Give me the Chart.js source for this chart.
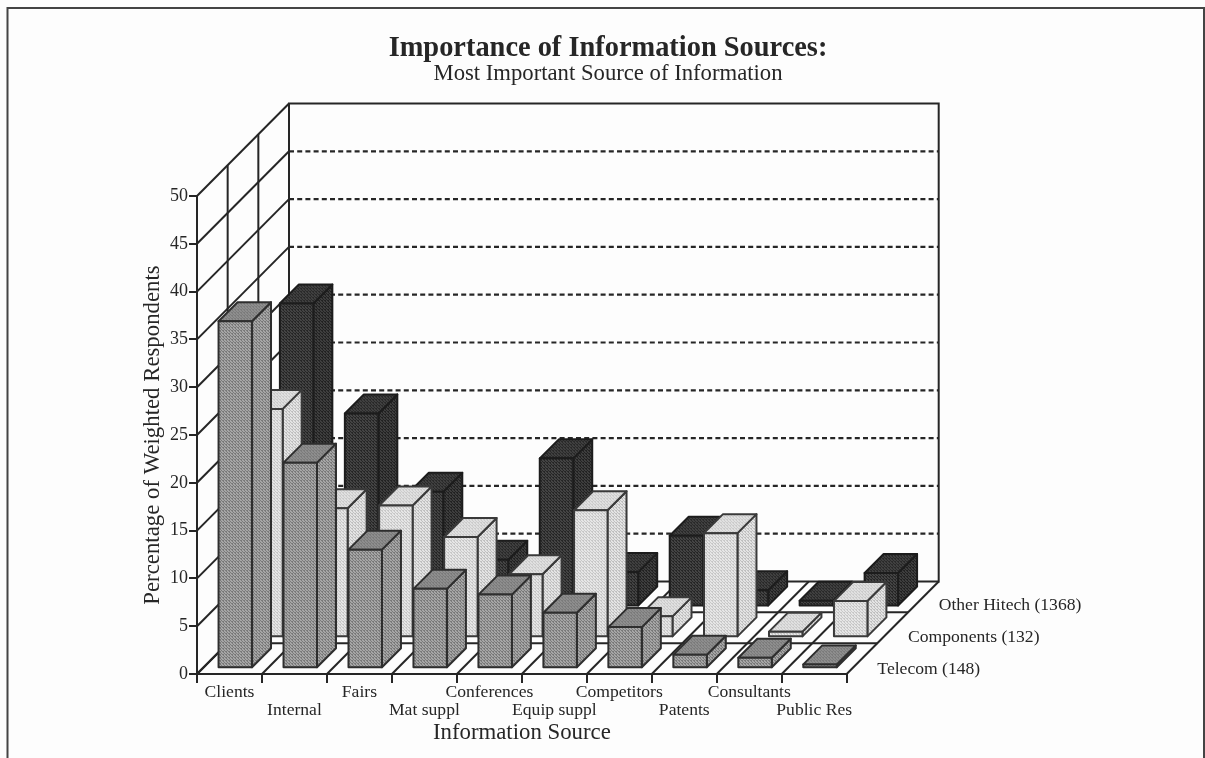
<!DOCTYPE html>
<html>
<head>
<meta charset="utf-8">
<title>Importance of Information Sources</title>
<script src="https://cdn.jsdelivr.net/npm/chart.js@4"></script>
<style>
  html, body { margin: 0; padding: 0; background: #fdfdfd; }
  canvas { display: block; }
</style>
</head>
<body>
<canvas id="plots" width="1205" height="758"></canvas>
<script>
// Categories and percentages, one list per respondent group
var sources = ["Clients", "Internal", "Fairs", "Mat suppl", "Conferences", "Equip suppl", "Competitors", "Patents", "Consultants", "Public Res"];
var telecom = [36.3, 21.5, 12.4, 8.3, 7.7, 5.8, 4.3, 1.4, 1.1, 0.4];
var components = [23.9, 13.5, 13.8, 10.5, 6.6, 13.3, 2.2, 10.9, 0.6, 3.8];
var otherHitech = [31.7, 20.2, 12.0, 4.9, 15.5, 3.6, 7.4, 1.7, 0.6, 3.5];
var yTicks = [0, 5, 10, 15, 20, 25, 30, 35, 40, 45, 50];

var ink = "#262626";
var serif = "'Liberation Serif', 'Times New Roman', serif";

// Oblique depth of the floor, split into one lane per dataset
var depthX = 92, depthY = 92.5, lanes = 3;
var laneX = depthX / lanes, laneY = depthY / lanes;
var barDepth = 19, inset = 5.8;

// Small dot tile, gives the screened look of the bar faces
function screen(hi, lo) {
  var c = document.createElement("canvas");
  c.width = c.height = 3;
  var g = c.getContext("2d");
  g.fillStyle = hi;
  g.fillRect(0, 0, 3, 3);
  g.fillStyle = lo;
  g.fillRect(0, 0, 1, 1);
  g.fillRect(1, 1, 1, 1);
  g.fillRect(2, 2, 1, 1);
  g.fillRect(1, 0, 1, 1);
  return g.createPattern(c, "repeat");
}

function line(ctx, x1, y1, x2, y2) {
  ctx.beginPath();
  ctx.moveTo(x1, y1);
  ctx.lineTo(x2, y2);
  ctx.stroke();
}

// Page frame, open at the bottom
var framePlugin = {
  id: "frame",
  beforeDraw: function (chart) {
    var ctx = chart.ctx;
    ctx.save();
    ctx.strokeStyle = "#444";
    ctx.lineWidth = 2;
    ctx.beginPath();
    ctx.moveTo(7.5, chart.height);
    ctx.lineTo(7.5, 8);
    ctx.lineTo(1204, 8);
    ctx.lineTo(1204, chart.height);
    ctx.stroke();
    ctx.restore();
  }
};

// Back wall, side wall and floor, all hung off the two scales
var roomPlugin = {
  id: "room",
  beforeDatasetsDraw: function (chart) {
    var ctx = chart.ctx, x = chart.scales.x, y = chart.scales.y;
    var left = x.left, right = x.right, zero = y.getPixelForValue(0), top = y.getPixelForValue(50);
    ctx.save();
    ctx.strokeStyle = ink;
    ctx.lineWidth = 2;

    // side wall diagonals, one per y tick
    yTicks.forEach(function (v) {
      var p = y.getPixelForValue(v);
      line(ctx, left, p, left + depthX, p - depthY);
    });
    // lane dividers on the side wall
    for (var r = 1; r < lanes; r++) {
      line(ctx, left + laneX * r, top - laneY * r, left + laneX * r, zero - laneY * r);
    }

    // back wall outline
    ctx.beginPath();
    ctx.moveTo(left + depthX, zero - depthY);
    ctx.lineTo(left + depthX, top - depthY);
    ctx.lineTo(right + depthX, top - depthY);
    ctx.lineTo(right + depthX, zero - depthY);
    ctx.lineTo(left + depthX, zero - depthY);
    ctx.stroke();

    // dashed rules across the back wall
    ctx.save();
    ctx.setLineDash([5, 3.2]);
    ctx.lineWidth = 2.2;
    yTicks.forEach(function (v) {
      if (v === 0 || v === 50) return;
      var p = y.getPixelForValue(v) - depthY;
      line(ctx, left + depthX, p, right + depthX, p);
    });
    ctx.restore();

    // floor: lane lines and the category boundaries running back
    for (var l = 1; l < lanes; l++) {
      line(ctx, left + laneX * l, zero - laneY * l, right + laneX * l, zero - laneY * l);
    }
    var step = (right - left) / sources.length;
    for (var i = 0; i <= sources.length; i++) {
      line(ctx, left + step * i, zero, left + step * i + depthX, zero - depthY);
    }

    // lane names along the right edge of the floor
    ctx.fillStyle = ink;
    ctx.font = "17.6px " + serif;
    ctx.textBaseline = "middle";
    chart.data.datasets.forEach(function (ds, n) {
      ctx.fillText(ds.label + " (" + ds.respondents + ")", right + laneX * (n + 1), zero - 5 - n * 32);
    });
    ctx.restore();
  },
  // each bar becomes a box pushed back into its lane
  beforeDatasetDraw: function (chart, args) {
    var ctx = chart.ctx, ds = chart.data.datasets[args.index];
    var ox = laneX * args.index + inset, oy = laneY * args.index + inset;
    ctx.save();
    ctx.strokeStyle = ds.edge;
    ctx.lineWidth = 2;
    ctx.lineJoin = "round";
    args.meta.data.forEach(function (bar) {
      var x0 = bar.x - bar.width / 2 + ox, x1 = bar.x + bar.width / 2 + ox;
      var yt = bar.y - oy, yb = bar.base - oy;

      ctx.fillStyle = ds.faces.side;
      ctx.beginPath();
      ctx.moveTo(x1, yt);
      ctx.lineTo(x1 + barDepth, yt - barDepth);
      ctx.lineTo(x1 + barDepth, yb - barDepth);
      ctx.lineTo(x1, yb);
      ctx.closePath();
      ctx.fill();
      ctx.stroke();

      ctx.fillStyle = ds.faces.top;
      ctx.beginPath();
      ctx.moveTo(x0, yt);
      ctx.lineTo(x0 + barDepth, yt - barDepth);
      ctx.lineTo(x1 + barDepth, yt - barDepth);
      ctx.lineTo(x1, yt);
      ctx.closePath();
      ctx.fill();
      ctx.stroke();

      ctx.fillStyle = ds.faces.front;
      ctx.beginPath();
      ctx.rect(x0, yt, x1 - x0, yb - yt);
      ctx.fill();
      ctx.stroke();
    });
    ctx.restore();
    return false;
  }
};

new Chart(document.getElementById("plots"), {
  type: "bar",
  plugins: [framePlugin, roomPlugin],
  data: {
    labels: sources,
    datasets: [
      {
        label: "Telecom", respondents: 148, data: telecom, edge: "#2e2e2e",
        faces: { front: screen("#a6a6a6", "#7a7a7a"), side: screen("#a6a6a6", "#7a7a7a"), top: screen("#8e8e8e", "#7c7c7c") }
      },
      {
        label: "Components", respondents: 132, data: components, edge: "#3a3a3a",
        faces: { front: screen("#e6e6e6", "#c8c8c8"), side: screen("#e4e4e4", "#c0c0c0"), top: screen("#e0e0e0", "#cccccc") }
      },
      {
        label: "Other Hitech", respondents: 1368, data: otherHitech, edge: "#1c1c1c",
        faces: { front: screen("#444444", "#262626"), side: screen("#3e3e3e", "#222222"), top: screen("#404040", "#2a2a2a") }
      }
    ]
  },
  options: {
    responsive: false,
    animation: false,
    events: [],
    grouped: false,
    barPercentage: 0.515,
    categoryPercentage: 1,
    layout: { padding: { left: 11, right: 0, top: 0, bottom: 0 } },
    plugins: {
      legend: { display: false },
      tooltip: { enabled: false },
      title: {
        display: true,
        text: "Importance of Information Sources:",
        color: ink,
        font: { family: serif, size: 28.4, weight: "bold", lineHeight: 1 },
        padding: { top: 34, bottom: 0 }
      },
      subtitle: {
        display: true,
        text: "Most Important Source of Information",
        color: ink,
        font: { family: serif, size: 22.7, weight: "normal", lineHeight: 1 },
        padding: { top: 0, bottom: 110.9 }
      }
    },
    scales: {
      x: {
        afterFit: function (s) { s.height = 84; },
        border: { color: ink, width: 2 },
        grid: { drawOnChartArea: false, color: ink, lineWidth: 2, tickLength: 9 },
        ticks: {
          color: ink,
          autoSkip: false,
          maxRotation: 0,
          padding: 0,
          font: { family: serif, size: 17.6, lineHeight: 1.03 },
          callback: function (v, i) { return i % 2 ? ["", sources[i]] : sources[i]; }
        },
        title: {
          display: true,
          text: "Information Source",
          color: ink,
          font: { family: serif, size: 22.8, lineHeight: 1 },
          padding: { top: 0, bottom: 14 }
        }
      },
      y: {
        min: 0,
        max: 50,
        afterFit: function (s) { s.width = 186; },
        afterBuildTicks: function (s) { s.ticks = yTicks.map(function (v) { return { value: v }; }); },
        border: { color: ink, width: 2 },
        grid: { drawOnChartArea: false, color: ink, lineWidth: 2, tickLength: 8 },
        ticks: { color: ink, padding: 1, font: { family: serif, size: 18 } },
        title: {
          display: true,
          text: "Percentage of Weighted Respondents",
          color: ink,
          font: { family: serif, size: 22.8, lineHeight: 1 },
          padding: { top: 131, bottom: 0 }
        }
      },
      // blank strip on the right that leaves room for the floor depth and lane names
      gap: {
        position: "right",
        afterFit: function (s) { s.width = 358.3; },
        border: { display: false },
        grid: { display: false },
        ticks: { display: false }
      }
    }
  }
});
</script>
</body>
</html>
